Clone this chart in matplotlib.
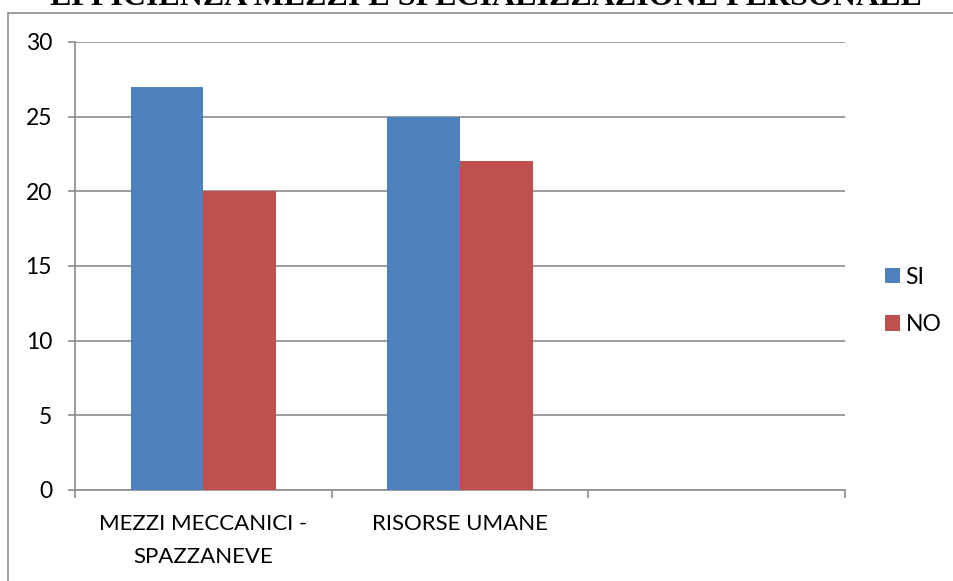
import matplotlib
matplotlib.use("Agg")
import matplotlib.pyplot as plt
import numpy as np
from matplotlib.patches import Rectangle

# Risposte per categoria (terza categoria vuota)
categories = ["MEZZI MECCANICI -\nSPAZZANEVE", "RISORSE UMANE", ""]
si_values = [27, 25, 0]
no_values = [20, 22, 0]
series_names = ["SI", "NO"]
series_colors = ["#4F81BD", "#C0504D"]
y_ticks = [0, 5, 10, 15, 20, 25, 30]

GRID = "#8C8C8C"

plt.rcParams["font.family"] = ["Lato", "DejaVu Sans"]

fig = plt.figure(figsize=(9.54, 5.81), dpi=100)
W, H = 954, 581

# chart frame
fig.patches.append(Rectangle((8 / W, -0.05), 1.1, 1 - 13 / H + 0.05,
                             transform=fig.transFigure, fill=False,
                             edgecolor="#8C8C8C", linewidth=1.2))

fig.text(486 / W, 1 - 5 / H, "EFFICIENZA MEZZI E SPECIALIZZAZIONE PERSONALE",
         ha="center", va="baseline", fontsize=23, fontweight="bold",
         family="Liberation Serif")

ax = fig.add_axes([75 / W, 1 - 490 / H, 770 / W, 448 / H])

x = np.arange(len(categories))
width = 0.283
ax.bar(x - width / 2, si_values, width, color=series_colors[0], label=series_names[0], zorder=3)
ax.bar(x + width / 2, no_values, width, color=series_colors[1], label=series_names[1], zorder=3)

ax.set_xlim(-0.5, len(categories) - 0.5)
ax.set_ylim(0, 30)
ax.set_yticks(y_ticks)
ax.set_yticklabels([str(v) for v in y_ticks], fontsize=16.5)
ax.set_xticks(np.arange(len(categories) + 1) - 0.5)
ax.set_xticklabels([])
ax.set_xticks(x, minor=True)
ax.set_xticklabels(categories, minor=True, fontsize=16, linespacing=1.85)
ax.tick_params(axis="x", which="minor", length=0, pad=17)
ax.tick_params(axis="x", which="major", length=6, color=GRID, width=1.2)
ax.tick_params(axis="y", length=5, color=GRID, width=1.2, pad=11.5)

ax.yaxis.grid(True, color=GRID, linewidth=1.2, zorder=0)
for side in ["top", "right"]:
    ax.spines[side].set_visible(False)
for side in ["left", "bottom"]:
    ax.spines[side].set_color(GRID)
    ax.spines[side].set_linewidth(1.2)

ax.legend(loc="center left", bbox_to_anchor=(885 / W, 1 - 301 / H),
          bbox_transform=fig.transFigure, frameon=False, borderpad=0,
          borderaxespad=0, fontsize=16.5, handlelength=0.65, handleheight=0.65,
          handletextpad=0.25, labelspacing=1.15)

fig.savefig("out.png", dpi=100)
